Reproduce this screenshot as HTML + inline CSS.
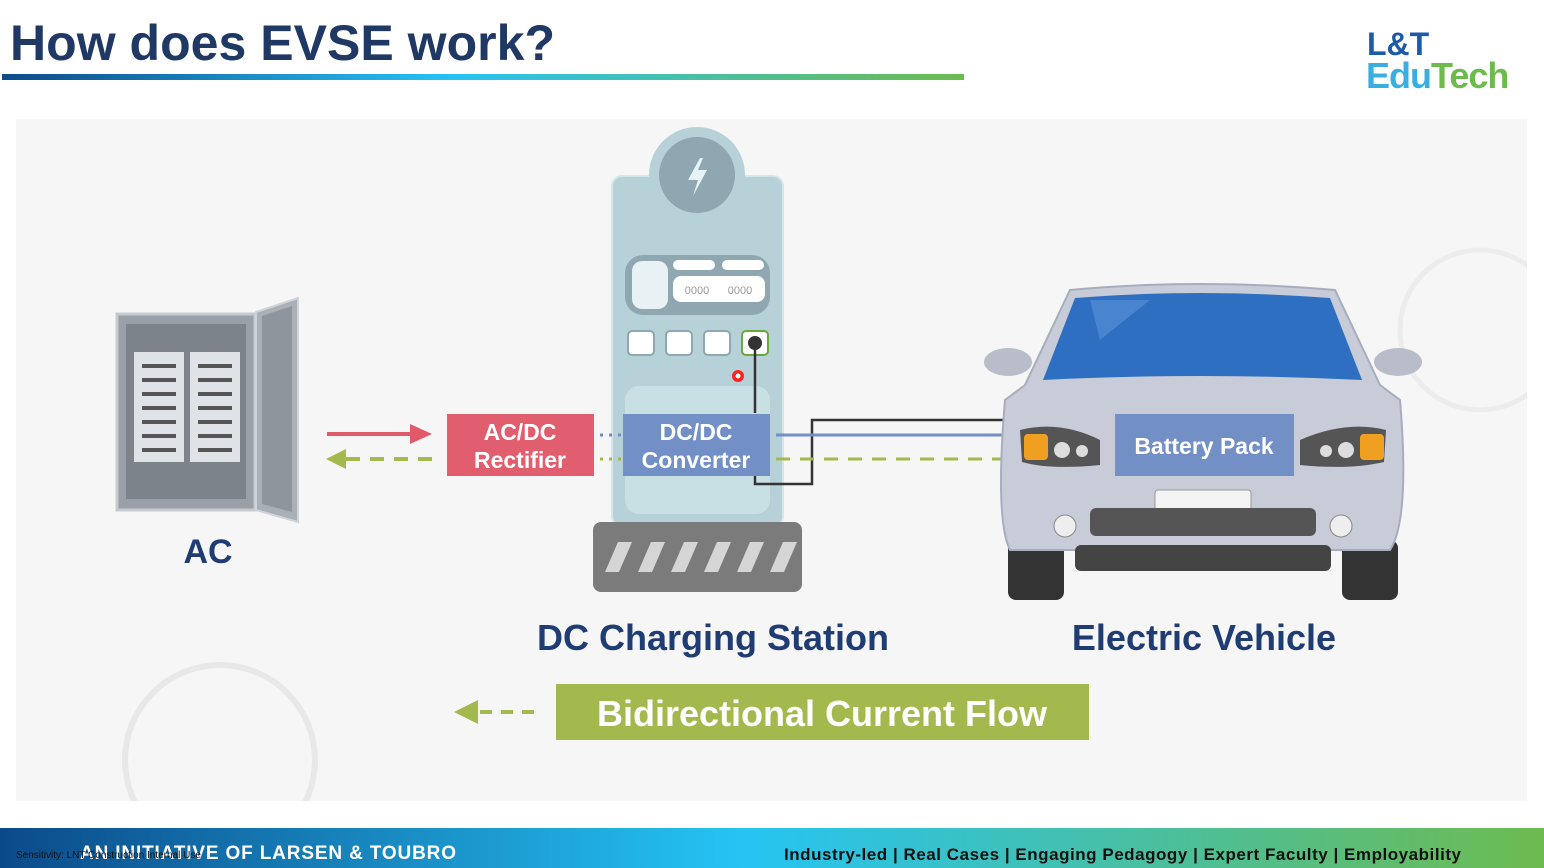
<!DOCTYPE html>
<html><head><meta charset="utf-8"><style>
html,body{margin:0;padding:0;background:#fff;}
body{width:1544px;height:868px;overflow:hidden;position:relative;font-family:"Liberation Sans",sans-serif;}
</style></head><body>
<svg width="1544" height="868" viewBox="0 0 1544 868" xmlns="http://www.w3.org/2000/svg" style="position:absolute;left:0;top:0">
<defs>
<linearGradient id="g1" x1="0" x2="1"><stop offset="0" stop-color="#0d4b8c"/><stop offset="0.47" stop-color="#27c3f3"/><stop offset="1" stop-color="#6dbb4f"/></linearGradient>
<linearGradient id="g2" x1="0" x2="1"><stop offset="0" stop-color="#0b4a8a"/><stop offset="0.48" stop-color="#25c4f4"/><stop offset="1" stop-color="#6dbb4f"/></linearGradient>
<clipPath id="cp"><rect x="16" y="119" width="1511" height="682"/></clipPath>
</defs>
<text x="10" y="60" font-size="50" font-weight="bold" fill="#1f3864" font-family="Liberation Sans,sans-serif" textLength="545">How does EVSE work?</text>
<rect x="2" y="74" width="962" height="6" fill="url(#g1)"/>
<text x="1367" y="55" font-size="32" font-weight="bold" fill="#1d5aa8">L&amp;T</text>
<text x="1366" y="88" font-size="36" font-weight="bold" fill="#3aaee0" letter-spacing="-1">Edu<tspan fill="#6cbb4c">Tech</tspan></text>
<rect x="16" y="119" width="1511" height="682" fill="#f6f6f6"/>
<g clip-path="url(#cp)">
<circle cx="220" cy="760" r="95" fill="none" stroke="#e8e8e8" stroke-width="6"/>
<circle cx="1480" cy="330" r="80" fill="none" stroke="#ececec" stroke-width="5"/>
</g>
<!-- panel AC -->
<rect x="117" y="314" width="138" height="196" fill="#9aa0a8" stroke="#c5cad0" stroke-width="3"/>
<rect x="126" y="324" width="120" height="175" fill="#7d838b"/>
<rect x="134" y="352" width="50" height="110" fill="#dfe3e8"/>
<rect x="190" y="352" width="50" height="110" fill="#dfe3e8"/>
<g fill="#555">
<rect x="142" y="364" width="34" height="4"/><rect x="142" y="378" width="34" height="4"/><rect x="142" y="392" width="34" height="4"/><rect x="142" y="406" width="34" height="4"/><rect x="142" y="420" width="34" height="4"/><rect x="142" y="434" width="34" height="4"/><rect x="142" y="448" width="34" height="4"/>
<rect x="198" y="364" width="34" height="4"/><rect x="198" y="378" width="34" height="4"/><rect x="198" y="392" width="34" height="4"/><rect x="198" y="406" width="34" height="4"/><rect x="198" y="420" width="34" height="4"/><rect x="198" y="434" width="34" height="4"/><rect x="198" y="448" width="34" height="4"/>
</g>
<polygon points="256,312 298,298 298,522 256,510" fill="#aab0b8" stroke="#d0d4d9" stroke-width="2"/>
<polygon points="262,316 292,306 292,512 262,504" fill="#8f959d"/>
<text x="208" y="563" font-size="34" font-weight="bold" fill="#1f3c73" text-anchor="middle">AC</text>
<!-- arrows left -->
<line x1="327" y1="434" x2="412" y2="434" stroke="#e05a6a" stroke-width="4"/>
<polygon points="410,424 432,434 410,444" fill="#e05a6a"/>
<line x1="346" y1="459" x2="432" y2="459" stroke="#a3b94e" stroke-width="4" stroke-dasharray="14,10"/>
<polygon points="346,449 326,459 346,469" fill="#a3b94e"/>
<!-- station -->
<rect x="612" y="176" width="171" height="350" rx="10" fill="#b7d1d8" stroke="#d5e6ea" stroke-width="2"/>
<circle cx="697" cy="175" r="48" fill="#b7d1d8"/>
<circle cx="697" cy="175" r="38" fill="#8ea7b0"/>
<polygon points="700,158 688,180 698,180 693,196 707,170 698,170 703,158" fill="#e6f4f6"/>
<rect x="625" y="255" width="145" height="60" rx="18" fill="#8ea7b0"/>
<rect x="632" y="261" width="36" height="48" rx="10" fill="#e8f1f3"/>
<rect x="673" y="260" width="42" height="10" rx="5" fill="#fff"/><rect x="722" y="260" width="42" height="10" rx="5" fill="#fff"/>
<rect x="673" y="276" width="92" height="26" rx="8" fill="#fff"/>
<text x="697" y="294" font-size="11" fill="#999" text-anchor="middle">0000</text><text x="740" y="294" font-size="11" fill="#999" text-anchor="middle">0000</text>
<g fill="#fff" stroke="#8ea7b0" stroke-width="2"><rect x="628" y="331" width="26" height="24" rx="4"/><rect x="666" y="331" width="26" height="24" rx="4"/><rect x="704" y="331" width="26" height="24" rx="4"/></g>
<rect x="742" y="331" width="26" height="24" rx="4" fill="#fff" stroke="#6aa83a" stroke-width="2"/>
<circle cx="755" cy="343" r="7" fill="#333"/>
<circle cx="738" cy="376" r="6" fill="#ff2020"/><circle cx="738" cy="376" r="2.5" fill="#fff"/>
<rect x="625" y="386" width="145" height="128" rx="14" fill="#c8dfe4"/>
<path d="M755 343 V413" stroke="#333" stroke-width="2.5" fill="none"/>
<path d="M755 470 V484 H812 V420 H1005" stroke="#333" stroke-width="2.5" fill="none"/>
<rect x="593" y="522" width="209" height="70" rx="8" fill="#7b7b7b"/>
<g fill="#d5d5d5"><polygon points="605,572 618,542 632,542 619,572"/><polygon points="638,572 651,542 665,542 652,572"/><polygon points="671,572 684,542 698,542 685,572"/><polygon points="704,572 717,542 731,542 718,572"/><polygon points="737,572 750,542 764,542 751,572"/><polygon points="770,572 783,542 797,542 784,572"/></g>
<!-- rectifier & converter -->
<rect x="447" y="414" width="147" height="62" fill="#e15e6e"/>
<text x="520" y="440" font-size="23" font-weight="bold" fill="#fff" text-anchor="middle">AC/DC</text>
<text x="520" y="468" font-size="23" font-weight="bold" fill="#fff" text-anchor="middle">Rectifier</text>
<line x1="600" y1="435" x2="622" y2="435" stroke="#6f8cc6" stroke-width="3" stroke-dasharray="3,6"/>
<line x1="600" y1="459" x2="622" y2="459" stroke="#a3b94e" stroke-width="3" stroke-dasharray="3,6"/>
<rect x="623" y="414" width="147" height="62" fill="#728fc6"/>
<text x="696" y="440" font-size="23" font-weight="bold" fill="#fff" text-anchor="middle">DC/DC</text>
<text x="696" y="468" font-size="23" font-weight="bold" fill="#fff" text-anchor="middle">Converter</text>
<line x1="776" y1="435" x2="1115" y2="435" stroke="#728fc6" stroke-width="3"/>
<line x1="776" y1="459" x2="1115" y2="459" stroke="#a3b94e" stroke-width="3" stroke-dasharray="14,10"/>
<!-- car -->
<rect x="1008" y="540" width="56" height="60" rx="8" fill="#333"/>
<rect x="1342" y="540" width="56" height="60" rx="8" fill="#333"/>
<path d="M1070 290 Q1200 278 1335 290 L1380 385 L1400 400 Q1410 520 1390 550 L1010 550 Q995 520 1005 400 L1025 385 Z" fill="#c8ccd8" stroke="#a8adbd" stroke-width="2"/>
<path d="M1075 298 Q1200 288 1330 298 L1362 380 Q1200 372 1043 380 Z" fill="#2f6fc2"/>
<path d="M1090 300 L1150 300 L1100 340 Z" fill="#5b93d6" opacity="0.6"/>
<ellipse cx="1008" cy="362" rx="24" ry="14" fill="#b8bdc9"/><ellipse cx="1398" cy="362" rx="24" ry="14" fill="#b8bdc9"/>
<path d="M1020 430 Q1060 420 1100 440 L1100 465 Q1050 470 1022 462 Z" fill="#555"/>
<rect x="1024" y="434" width="24" height="26" rx="4" fill="#f0a020"/>
<circle cx="1062" cy="450" r="8" fill="#ddd"/><circle cx="1082" cy="451" r="6" fill="#ddd"/>
<path d="M1386 430 Q1346 420 1300 440 L1300 465 Q1350 470 1384 462 Z" fill="#555"/>
<rect x="1360" y="434" width="24" height="26" rx="4" fill="#f0a020"/>
<circle cx="1346" cy="450" r="8" fill="#ddd"/><circle cx="1326" cy="451" r="6" fill="#ddd"/>
<rect x="1155" y="490" width="96" height="28" rx="3" fill="#f4f4f4" stroke="#999"/>
<rect x="1090" y="508" width="226" height="28" rx="6" fill="#555"/>
<circle cx="1065" cy="526" r="11" fill="#eee" stroke="#888"/><circle cx="1341" cy="526" r="11" fill="#eee" stroke="#888"/>
<rect x="1075" y="545" width="256" height="26" rx="6" fill="#444"/>
<rect x="1115" y="414" width="179" height="62" fill="#728fc6"/>
<text x="1204" y="454" font-size="23" font-weight="bold" fill="#fff" text-anchor="middle">Battery Pack</text>
<!-- labels -->
<text x="713" y="650" font-size="36" font-weight="bold" fill="#1f3c73" text-anchor="middle">DC Charging Station</text>
<text x="1204" y="650" font-size="36" font-weight="bold" fill="#1f3c73" text-anchor="middle">Electric Vehicle</text>
<rect x="556" y="684" width="533" height="56" fill="#a3b94e"/>
<text x="822" y="726" font-size="36" font-weight="bold" fill="#fff" text-anchor="middle">Bidirectional Current Flow</text>
<line x1="480" y1="712" x2="540" y2="712" stroke="#a3b94e" stroke-width="4" stroke-dasharray="12,9"/>
<polygon points="478,700 454,712 478,724" fill="#a3b94e"/>
<!-- footer -->
<rect x="0" y="828" width="1544" height="40" fill="url(#g2)"/>
<text x="80" y="859" font-size="19" font-weight="bold" fill="#fff" textLength="376">AN INITIATIVE OF LARSEN &amp; TOUBRO</text>
<text x="16" y="858" font-size="10" fill="#111">Sensitivity: LNT Construction Internal Use</text>
<text x="784" y="860" font-size="17" font-weight="bold" fill="#111" textLength="677">Industry-led | Real Cases | Engaging Pedagogy | Expert Faculty | Employability</text>
</svg>
</body></html>
